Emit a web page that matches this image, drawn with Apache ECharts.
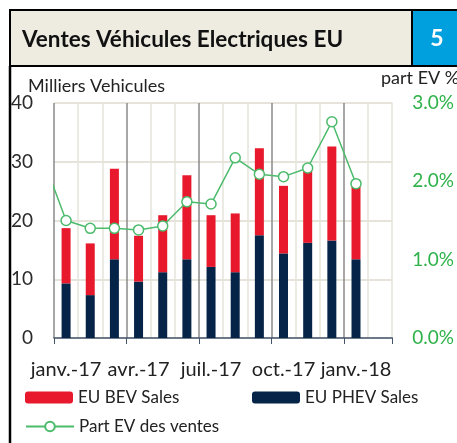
<!DOCTYPE html>
<html><head><meta charset="utf-8">
<script src="https://cdn.jsdelivr.net/npm/echarts@6/dist/echarts.min.js"></script>
<style>html,body{margin:0;padding:0;background:#fff;}#c{width:457px;height:443px;}</style>
</head><body><div id="c"></div>
<script>
var months = ['janv.-17','févr.-17','mars-17','avr.-17','mai-17','juin-17','juil.-17','août-17','sept.-17','oct.-17','nov.-17','déc.-17','janv.-18','févr.-18'];
var phevSales = [9.3, 7.3, 13.4, 9.6, 11.2, 13.4, 12.1, 11.2, 17.5, 14.4, 16.2, 16.6, 13.4];
var bevSales  = [9.4, 8.8, 15.4, 7.8, 9.7, 14.3, 8.8, 10.0, 14.8, 11.5, 12.3, 16.0, 12.5];
// first value belongs to déc.-16 (before the visible range, clipped)
var shareMonthIndex = [-1, 0, 1, 2, 3, 4, 5, 6, 7, 8, 9, 10, 11, 12];
var shareEV = [2.33, 1.50, 1.40, 1.40, 1.38, 1.43, 1.74, 1.71, 2.30, 2.09, 2.06, 2.17, 2.76, 1.97];
var leftTicks = [0, 10, 20, 30, 40];
var rightTicks = [0, 1, 2, 3];

var FONT = 'Lato';
var chart = echarts.init(document.getElementById('c'));
var sharePairs = shareEV.map(function (v, i) { return [shareMonthIndex[i], v]; });

chart.setOption({
  animation: false,
  textStyle: { fontFamily: FONT },
  graphic: [
    { type: 'rect', shape: { x: 10, y: 10, width: 460, height: 56 }, style: { fill: '#eeece1', stroke: '#000', lineWidth: 2 }, z: 1 },
    { type: 'rect', shape: { x: 412, y: 10, width: 60, height: 56 }, style: { fill: '#00a0df', stroke: '#000', lineWidth: 2 }, z: 2 },
    { type: 'text', x: 437, y: 39, style: { text: '5', fill: '#fff', font: 'bold 23px ' + FONT, textAlign: 'center', textVerticalAlign: 'middle' }, z: 3 },
    { type: 'text', x: 22, y: 40, style: { text: 'Ventes Véhicules Electriques EU', fill: '#111', font: 'bold 22.5px ' + FONT, textAlign: 'left', textVerticalAlign: 'middle' }, z: 3 },
    { type: 'line', shape: { x1: 10, y1: 66, x2: 10, y2: 443 }, style: { stroke: '#000', lineWidth: 2.5 }, z: 3 },
    { type: 'text', x: 28, y: 86, style: { text: 'Milliers Vehicules', fill: '#222', font: '18px ' + FONT, textAlign: 'left', textVerticalAlign: 'middle' }, z: 3 },
    { type: 'text', x: 381, y: 78, style: { text: 'part EV %', fill: '#222', font: '18px ' + FONT, textAlign: 'left', textVerticalAlign: 'middle' }, z: 3 }
  ],
  grid: { left: 54, right: 59, top: 103, bottom: 105, containLabel: false },
  legend: [
    { data: ['EU BEV Sales'], left: 25, top: 389, padding: 0, itemWidth: 48, itemHeight: 12, itemGap: 8, textStyle: { fontSize: 17, color: '#222', fontFamily: FONT } },
    { data: ['EU PHEV Sales'], left: 252, top: 389, padding: 0, itemWidth: 48, itemHeight: 12, textStyle: { fontSize: 17, color: '#222', fontFamily: FONT } },
    { data: ['Part EV des ventes'], left: 25, top: 418, padding: 0, itemWidth: 48, itemHeight: 12, textStyle: { fontSize: 17, color: '#222', fontFamily: FONT } }
  ],
  xAxis: [
    {
      type: 'category', data: months, boundaryGap: true,
      axisLine: { show: true, lineStyle: { color: '#44546a', width: 1.5 } },
      axisTick: { show: true, interval: 2, length: 6, lineStyle: { color: '#44546a' } },
      axisLabel: { interval: 2, fontSize: 20, color: '#222', margin: 22, fontFamily: FONT },
      splitLine: { show: false }
    },
    {
      type: 'value', min: -0.5, max: 13.5, interval: 1, show: true,
      axisLine: { show: false }, axisTick: { show: false }, axisLabel: { show: false },
      splitLine: { show: true, lineStyle: { color: ['#8a8a8a', '#e6e4da', '#e6e4da'], width: 1.5 } }
    }
  ],
  yAxis: [
    {
      type: 'value', min: leftTicks[0], max: leftTicks[leftTicks.length - 1], interval: 10,
      axisLine: { show: false }, axisTick: { show: false },
      axisLabel: { fontSize: 19, color: '#2b2b2b', margin: 21, fontFamily: FONT },
      splitLine: { show: true, lineStyle: { color: '#e6e4da', width: 2 } }
    },
    {
      type: 'value', min: rightTicks[0], max: rightTicks[rightTicks.length - 1], interval: 1,
      axisLine: { show: false }, axisTick: { show: false },
      axisLabel: { fontSize: 19, color: '#2fb24a', margin: 20, fontFamily: FONT, align: 'left',
        formatter: function (v) { return v.toFixed(1) + '%'; } },
      splitLine: { show: false }
    }
  ],
  series: [
    { name: 'EU PHEV Sales', type: 'bar', stack: 'ev', data: phevSales, barWidth: 9, itemStyle: { color: '#062447' }, xAxisIndex: 0, yAxisIndex: 0 },
    { name: 'EU BEV Sales', type: 'bar', stack: 'ev', data: bevSales, barWidth: 9, itemStyle: { color: '#e8192c' }, xAxisIndex: 0, yAxisIndex: 0 },
    { name: 'Part EV des ventes', type: 'line', data: sharePairs, xAxisIndex: 1, yAxisIndex: 1, clip: true,
      symbol: 'circle', symbolSize: 10, showAllSymbol: true,
      lineStyle: { color: '#4cbb6c', width: 1.5 },
      itemStyle: { color: '#fff', borderColor: '#4cbb6c', borderWidth: 1.5 }, z: 5 }
  ]
});
</script>
</body></html>
